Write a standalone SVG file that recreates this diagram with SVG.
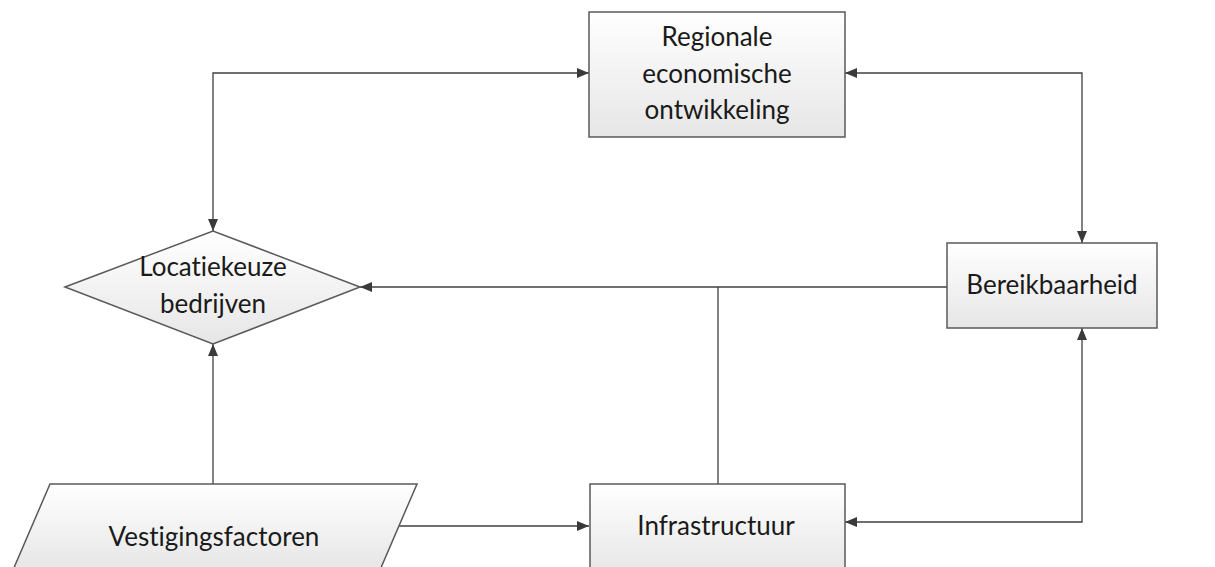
<svg xmlns="http://www.w3.org/2000/svg" width="1215" height="567" viewBox="0 0 1215 567">
<defs>
<linearGradient id="g" x1="0" y1="0" x2="0" y2="1">
<stop offset="0" stop-color="#ffffff"/>
<stop offset="1" stop-color="#e6e6e6"/>
</linearGradient>
<marker id="ah" viewBox="0 0 10 10" refX="10" refY="5" markerWidth="12" markerHeight="10" markerUnits="userSpaceOnUse" orient="auto-start-reverse" preserveAspectRatio="none">
<path d="M0,0 L10,5 L0,10 z" fill="#3a3a3a"/>
</marker>
<style>
.s{fill:url(#g);stroke:#595959;stroke-width:1.5}
.t{font-family:Lato,"Liberation Sans",sans-serif;font-size:26px;fill:#1a1a1a;text-anchor:middle;font-variant-ligatures:none}
.c{fill:none;stroke:#404040;stroke-width:1.3}
</style>
</defs>
<rect width="1215" height="567" fill="#fff"/>
<g id="connectors">
<path class="c" d="M213,231 V73 H589" marker-start="url(#ah)" marker-end="url(#ah)"/>
<path class="c" d="M845,73 H1082 V243" marker-start="url(#ah)" marker-end="url(#ah)"/>
<path class="c" d="M947,287 H360" marker-end="url(#ah)"/>
<path class="c" d="M718,484 V287"/>
<path class="c" d="M213,484 V344" marker-end="url(#ah)"/>
<path class="c" d="M398,526 H589" marker-end="url(#ah)"/>
<path class="c" d="M1082,328 V522 H845" marker-start="url(#ah)" marker-end="url(#ah)"/>
</g>
<g id="regionale">
<rect class="s" x="589" y="12" width="256" height="125"/>
<text class="t" x="717" y="46">Regionale</text>
<text class="t" x="717" y="83">economische</text>
<text class="t" x="717" y="119">ontwikkeling</text>
</g>
<g id="locatiekeuze">
<polygon class="s" points="65,287 213,231 360,287 213,344"/>
<text class="t" x="213" y="276">Locatiekeuze</text>
<text class="t" x="213" y="313">bedrijven</text>
</g>
<g id="bereikbaarheid">
<rect class="s" x="947" y="243" width="210" height="85"/>
<text class="t" x="1052" y="294">Bereikbaarheid</text>
</g>
<g id="vestigingsfactoren">
<polygon class="s" points="50,484 417,484 380,570 13,570"/>
<text class="t" x="214" y="546">Vestigingsfactoren</text>
</g>
<g id="infrastructuur">
<rect class="s" x="590" y="484" width="255" height="90"/>
<text class="t" x="716" y="535">Infrastructuur</text>
</g>
</svg>
